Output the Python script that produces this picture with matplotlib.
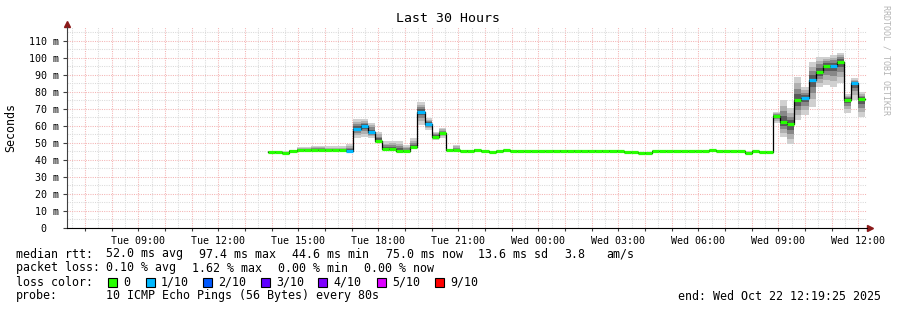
import numpy as np
import matplotlib
matplotlib.use("Agg")
import matplotlib.pyplot as plt
from matplotlib.ticker import MultipleLocator, FuncFormatter
from matplotlib.patches import Rectangle

W, H = 897, 310
MONO = "DejaVu Sans Mono"

# time axis in hours since Tue 00:00
t_start = 6 + 19 / 60 + 25 / 3600      # Tue 06:19:25
t_span = 30
first_bin = 13 + 52 / 60               # Tue 13:52, RRA step 16 min
bin_hours = 16 / 60

# median rtt per 16 min bin (ms)
median = [44.8, 44.8, 44.4, 45.3, 45.6, 45.6, 45.6, 45.6, 45.6, 45.6, 45.6, 45.5,
          58.2, 60.0, 56.5, 51.3, 46.3, 46.5, 45.5, 45.0, 47.5,
          68.5, 61.2, 53.8, 56.0, 45.8, 45.8, 45.5, 45.5, 46.0, 45.0, 44.5, 45.1, 45.6,
          45.1, 45.1, 45.1, 45.1, 45.1, 45.1,
          45.5, 45.5, 45.5, 45.5, 45.5, 45.5, 45.5, 45.5, 45.5, 45.5,
          44.8, 44.7, 44.4, 44.4,
          45.0, 45.0, 45.0, 45.0, 45.0, 45.0, 45.0, 45.0,
          45.6, 45.0, 45.0, 45.0, 45.0, 44.4, 45.0, 44.6, 44.6,
          65.9, 62.3, 61.0, 75.0, 76.5, 87.0, 92.0, 95.5, 95.5, 97.8, 75.4, 85.0, 75.7]

# lowest / highest ping of each bin (ms)
smoke_lo = [44.4, 44.4, 44.0, 44.9, 45.2, 45.2, 45.2, 45.2, 45.2, 45.2, 45.2, 45.0,
            53.0, 53.7, 53.0, 50.0, 46.0, 45.5, 45.0, 44.5, 47.0,
            60.6, 57.6, 51.8, 53.0, 45.3, 45.5, 45.1, 45.1, 45.6, 44.6, 44.1, 44.7, 45.2,
            44.7, 44.7, 44.7, 44.7, 44.7, 44.7,
            45.1, 45.1, 45.1, 45.1, 45.1, 45.1, 45.1, 45.1, 45.1, 45.1,
            44.4, 44.3, 44.0, 44.0,
            44.6, 44.6, 44.6, 44.6, 44.6, 44.6, 44.6, 44.6,
            45.2, 44.6, 44.6, 44.6, 44.6, 44.0, 44.6, 44.2, 44.2,
            61.6, 53.7, 49.2, 63.5, 66.5, 71.4, 83.0, 84.0, 83.0, 85.0, 67.5, 75.3, 65.5]
smoke_hi = [45.4, 45.4, 45.0, 45.9, 47.5, 47.5, 48.2, 48.2, 48.0, 48.0, 48.0, 49.2,
            64.0, 64.0, 62.0, 56.5, 51.0, 51.0, 51.0, 49.0, 53.0,
            74.0, 64.7, 56.5, 58.8, 46.5, 48.8, 46.1, 46.1, 46.6, 45.6, 45.1, 45.7, 46.2,
            45.7, 45.7, 45.7, 45.7, 45.7, 45.7,
            46.1, 46.1, 46.1, 46.1, 46.1, 46.1, 46.1, 46.1, 46.1, 46.1,
            45.4, 45.3, 44.9, 44.9,
            45.6, 45.6, 45.6, 45.6, 45.6, 45.6, 45.6, 45.6,
            46.2, 45.6, 45.6, 45.6, 45.6, 45.0, 45.6, 45.2, 45.2,
            68.4, 75.3, 70.4, 89.0, 83.0, 97.8, 100.8, 100.8, 102.0, 103.0, 78.6, 88.0, 80.0]

# lost pings out of 10 per bin
loss = [0] * 84
for i in [11, 12, 13, 14, 21, 22, 75, 76, 79, 82]:
    loss[i] = 1

loss_steps = [0, 1, 2, 3, 4, 5, 9]
loss_labels = ["0", "1/10", "2/10", "3/10", "4/10", "5/10", "9/10"]
loss_colors = ["#26ff00", "#00b8ff", "#0059ff", "#5e00ff", "#7e00ff", "#dd00ff", "#ff0000"]

fig = plt.figure(figsize=(W / 100, H / 100), dpi=100)
ax = fig.add_axes([67 / W, 1 - 228 / H, 800 / W, (228 - 26.7) / H])
ax.set_xlim(t_start, t_start + t_span)
ax.set_ylim(0, 118.4)

# grid
ax.xaxis.set_major_locator(MultipleLocator(1))
ax.xaxis.set_minor_locator(MultipleLocator(0.5))
ax.yaxis.set_major_locator(MultipleLocator(10))
ax.yaxis.set_minor_locator(MultipleLocator(5))
ax.grid(which="minor", color="#dadada", linestyle=(0, (1, 1.2)), linewidth=0.75)
ax.grid(which="major", color="#f4b4b4", linestyle=(0, (1, 1.2)), linewidth=0.75)
ax.set_axisbelow(True)


def xfmt(v, pos):
    h = int(round(v))
    if h % 3:
        return ""
    day = "Tue" if h < 24 else "Wed"
    return f"{day} {h % 24:02d}:00"


def yfmt(v, pos):
    if abs(v) < 0.01:
        return "0  "
    return f"{int(round(v))} m"


ax.xaxis.set_major_formatter(FuncFormatter(xfmt))
ax.yaxis.set_major_formatter(FuncFormatter(yfmt))
ax.tick_params(axis="both", which="both", labelsize=7.2, colors="#404040", labelcolor="black")
ax.tick_params(axis="y", which="major", length=3, pad=3)
ax.tick_params(axis="y", which="minor", length=0)
ax.tick_params(axis="x", which="major", length=2, pad=4)
ax.tick_params(axis="x", which="minor", length=0)
for lab in ax.get_xticklabels() + ax.get_yticklabels():
    lab.set_fontfamily(MONO)

for s in ["top", "right"]:
    ax.spines[s].set_visible(False)
ax.spines["left"].set_color("#404040")
ax.spines["bottom"].set_color("black")
ax.plot([0, 0], [1, 1.02], transform=ax.transAxes, color="#404040", lw=0.8, clip_on=False)
ax.plot([1, 1.004], [0, 0], transform=ax.transAxes, color="black", lw=0.8, clip_on=False)
ax.plot([67 / W], [1 - 23.5 / H], marker="^", ms=4, color="#8b1a1a", transform=fig.transFigure, clip_on=False)
ax.plot([870 / W], [1 - 228 / H], marker=">", ms=4, color="#8b1a1a", transform=fig.transFigure, clip_on=False)

# smoke
edges = first_bin + bin_hours * np.arange(len(median) + 1)
med = np.array(median)
lo = np.array(smoke_lo)
hi = np.array(smoke_hi)
for frac, col in zip([1.0, 0.72, 0.48, 0.26], ["#d0d0d0", "#b0b0b0", "#888888", "#5a5a5a"]):
    lo_k = med - frac * (med - lo)
    hi_k = med + frac * (hi - med)
    ax.fill_between(edges, np.append(lo_k, lo_k[-1]), np.append(hi_k, hi_k[-1]),
                    step="post", color=col, lw=0, zorder=2)

# median line
ax.step(edges, np.append(med, med[-1]), where="post", color="black", lw=0.9, zorder=3)
seg_colors = [loss_colors[loss_steps.index(l)] for l in loss]
ax.hlines(med, edges[:-1], edges[1:], colors=seg_colors, lw=2.3, capstyle="butt", zorder=4)

# texts
def ftext(x, y, s, **kw):
    kw.setdefault("fontsize", 8.4)
    kw.setdefault("family", MONO)
    kw.setdefault("va", "center")
    fig.text(x / W, 1 - y / H, s, **kw)


ftext(448, 19, "Last 30 Hours", fontsize=9.5, ha="center")
ftext(11, 127, "Seconds", rotation=90, ha="center")
ftext(886, 60, "RRDTOOL / TOBI OETIKER", rotation=270, ha="center", fontsize=6, color="#b4b4b4")

ftext(16, 254, "median rtt:")
ftext(106, 254, "52.0 ms avg")
ftext(199, 254, "97.4 ms max")
ftext(292, 254, "44.6 ms min")
ftext(386, 254, "75.0 ms now")
ftext(478, 254, "13.6 ms sd")
ftext(564, 254, "3.8")
ftext(606, 254, "am/s")

ftext(16, 268, "packet loss:")
ftext(106, 268, "0.10 % avg")
ftext(192, 268, "1.62 % max")
ftext(278, 268, "0.00 % min")
ftext(364, 268, "0.00 % now")

ftext(16, 282, "loss color:")
box_x = [108, 146, 203, 261, 318, 377, 435]
for bx, lab, col in zip(box_x, loss_labels, loss_colors):
    fig.add_artist(Rectangle((bx / W, 1 - 286.5 / H), 9 / W, 9 / H, transform=fig.transFigure,
                             facecolor=col, edgecolor="black", lw=0.8))
    ftext(bx + 15, 282, lab)

ftext(16, 296, "probe:")
ftext(106, 296, "10 ICMP Echo Pings (56 Bytes) every 80s")
ftext(881, 296, "end: Wed Oct 22 12:19:25 2025", ha="right")

fig.savefig("out.png", dpi=100)
